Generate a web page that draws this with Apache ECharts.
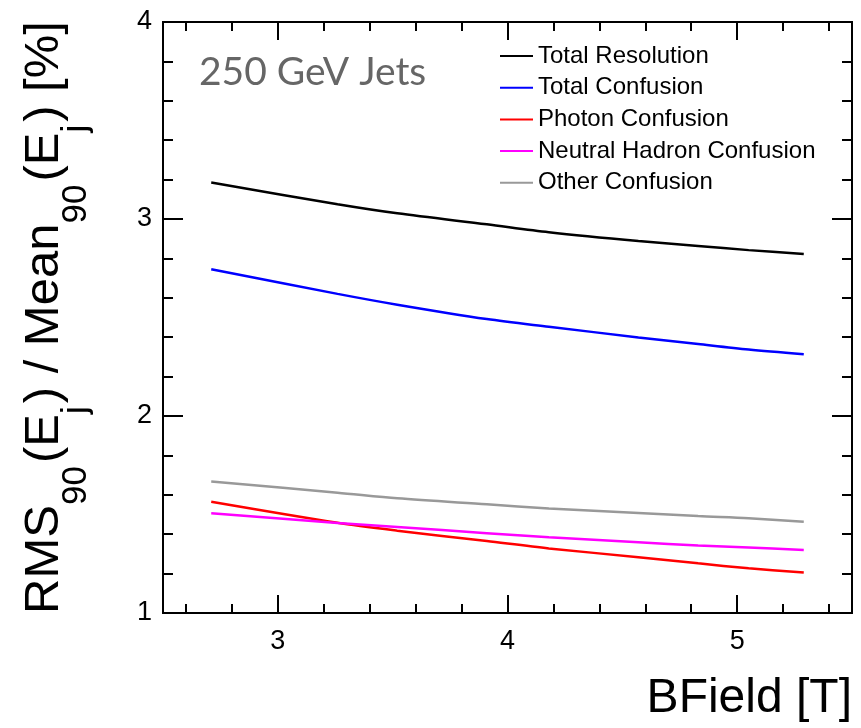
<!DOCTYPE html>
<html>
<head>
<meta charset="utf-8">
<script src="https://cdn.jsdelivr.net/npm/echarts@6/dist/echarts.min.js"></script>
<style>html,body{margin:0;padding:0;background:#fff}#c{width:861px;height:728px}</style>
</head>
<body>
<div id="c"></div>
<script>
var bField = [2.71, 3.26, 3.52, 3.91, 4.18, 4.57, 4.83, 5.05, 5.29];
var totalResolution = [3.185, 3.075, 3.029, 2.973, 2.933, 2.888, 2.863, 2.842, 2.822];
var totalConfusion = [2.745, 2.620, 2.565, 2.492, 2.453, 2.399, 2.365, 2.337, 2.313];
var photonConfusion = [1.565, 1.458, 1.418, 1.365, 1.328, 1.283, 1.252, 1.227, 1.205];
var neutralHadronConfusion = [1.506, 1.457, 1.437, 1.405, 1.384, 1.359, 1.343, 1.333, 1.320];
var otherConfusion = [1.667, 1.611, 1.582, 1.552, 1.531, 1.508, 1.492, 1.481, 1.463];
var seriesNames = ['Total Resolution', 'Total Confusion', 'Photon Confusion', 'Neutral Hadron Confusion', 'Other Confusion'];
var xMajorTicks = [3, 4, 5];
var xMinorTicks = [2.6, 2.8, 3.2, 3.4, 3.6, 3.8, 4.2, 4.4, 4.6, 4.8, 5.2, 5.4];
var yTicks = [1, 2, 3, 4];
var annotation = '250 GeV Jets';

var colors = ['#000000', '#0000ff', '#ff0000', '#ff00ff', '#999999'];
var values = [totalResolution, totalConfusion, photonConfusion, neutralHadronConfusion, otherConfusion];
var font = '"Liberation Sans", Arial, sans-serif';

function pairs(arr) { return bField.map(function (x, i) { return [x, arr[i]]; }); }

function xAx(pos, major, showLabel, extra) {
  var o = {
    type: 'value', position: pos, min: 2.5, max: 5.5,
    axisLine: { show: true, onZero: false, lineStyle: { color: '#000', width: 2 } },
    axisTick: { show: true, inside: true, length: major ? 18 : 9, customValues: major ? xMajorTicks : xMinorTicks, lineStyle: { color: '#000', width: 2 } },
    axisLabel: { show: showLabel, customValues: xMajorTicks, fontSize: 27, color: '#000', fontFamily: font, margin: 15 },
    splitLine: { show: false }
  };
  for (var k in extra) o[k] = extra[k];
  return o;
}
function yAx(pos, showLabel, extra) {
  var o = {
    type: 'value', position: pos, min: 1, max: 4, interval: 1,
    axisLine: { show: true, onZero: false, lineStyle: { color: '#000', width: 2 } },
    axisTick: { show: true, inside: true, length: 20, lineStyle: { color: '#000', width: 2 } },
    minorTick: { show: true, splitNumber: 5, length: 10, lineStyle: { color: '#000', width: 2 } },
    axisLabel: { show: showLabel, fontSize: 27, color: '#000', fontFamily: font, margin: 11 },
    splitLine: { show: false }, minorSplitLine: { show: false }
  };
  for (var k in extra) o[k] = extra[k];
  return o;
}

var chart = echarts.init(document.getElementById('c'), null, { renderer: 'canvas' });
chart.setOption({
  animation: false,
  backgroundColor: '#fff',
  grid: { left: 163, right: 9, top: 22, bottom: 115, containLabel: false, outerBoundsMode: 'none' },
  title: {
    text: annotation, left: 194, top: 48,
    textStyle: { fontFamily: 'Lato, "Open Sans", sans-serif', fontSize: 39, fontWeight: 'normal', color: '#666666' }
  },
  legend: {
    orient: 'vertical', left: 495, top: 39, itemGap: 7.7,
    icon: 'rect', itemWidth: 33, itemHeight: 2,
    textStyle: { fontSize: 24, color: '#000', fontFamily: font },
    data: seriesNames
  },
  xAxis: [
    xAx('bottom', true, true, {
      name: 'BField [T]', nameLocation: 'end', nameGap: 0,
      nameTextStyle: { fontSize: 48, fontFamily: font, color: '#000', align: 'right', verticalAlign: 'top', padding: [62, 0, 0, 0] }
    }),
    xAx('bottom', false, false, {}),
    xAx('top', true, false, {}),
    xAx('top', false, false, {})
  ],
  yAxis: [
    yAx('left', true, {
      name: '{m|RMS}{s|90}{m|(E}{s|j}{m|) / Mean}{s|90}{m|(E}{s|j}{m|) [%]}',
      nameLocation: 'middle', nameGap: 69,
      nameTextStyle: {
        fontFamily: font, color: '#000',
        rich: {
          m: { fontSize: 49, lineHeight: 100, fontFamily: font, color: '#000' },
          s: { fontSize: 35, lineHeight: 35, verticalAlign: 'bottom', fontFamily: font, color: '#000', padding: [0, 3, 0, 0] }
        }
      }
    }),
    yAx('right', false, {})
  ],
  series: seriesNames.map(function (n, i) {
    return {
      name: n, type: 'line', xAxisIndex: 0, yAxisIndex: 0,
      showSymbol: false, symbol: 'none', smooth: 0.3,
      color: colors[i],
      lineStyle: { color: colors[i], width: 2.5 },
      data: pairs(values[i])
    };
  })
});
</script>
</body>
</html>
